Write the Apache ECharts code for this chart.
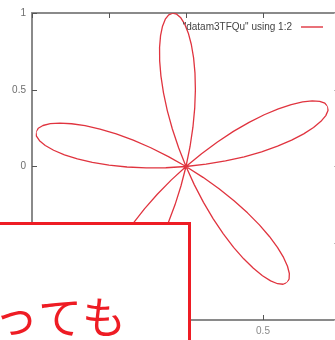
<!DOCTYPE html>
<html>
<head>
<meta charset="utf-8">
<script src="https://cdn.jsdelivr.net/npm/echarts@6/dist/echarts.min.js"></script>
<style>
  html, body { margin: 0; padding: 0; background: #fff; }
  #chart { width: 335px; height: 340px; }
</style>
</head>
<body>
<div id="chart"></div>
<script>
// Five-petal rose, plotted gnuplot-style.
const seriesName = '"datam3TFQu" using 1:2';

// Direction of each petal's tip (degrees, counter-clockwise from +x).
const petalCenters = [23, 95, 167, 239, 311];

// Angular offsets across one petal (degrees) and the radius at each offset.
const petalOffsets = [-18, -16.5, -15, -13.5, -12, -10.5, -9, -7.5, -6, -4.5, -3, -1.5,
                      0, 1.5, 3, 4.5, 6, 7.5, 9, 10.5, 12, 13.5, 15, 16.5, 18];
const petalRadii = [0, 0.131, 0.259, 0.383, 0.5, 0.609, 0.707, 0.793, 0.866, 0.924, 0.966, 0.991,
                    1, 0.991, 0.966, 0.924, 0.866, 0.793, 0.707, 0.609, 0.5, 0.383, 0.259, 0.131, 0];

// Axis ticks
const axisMin = -1, axisMax = 1, axisStep = 0.5;

// Polar [radius, angle] points, petal after petal
const roseData = [];
petalCenters.forEach(c => {
  petalOffsets.forEach((o, i) => roseData.push([petalRadii[i], c + o]));
});

const chart = echarts.init(document.getElementById('chart'));

const frame = '#8a8a8a';
const labelColor = '#6e6e6e';
const red = '#e0343f';

const valueAxisBase = {
  type: 'value', min: axisMin, max: axisMax, interval: axisStep,
  splitLine: { show: false }
};
const frameLine = { onZero: false, lineStyle: { color: frame, width: 2 } };

chart.setOption({
  animation: false,
  backgroundColor: '#fff',
  // the frame runs a few pixels past the right edge of the page
  grid: { left: 32, top: 13, width: 308, height: 307, containLabel: false, outerBoundsMode: 'none' },
  polar: { center: [186, 166.5], radius: 154 },
  angleAxis: {
    type: 'value', min: 0, max: 360, startAngle: 0, clockwise: false,
    axisLine: { show: false }, axisTick: { show: false },
    axisLabel: { show: false }, splitLine: { show: false }
  },
  radiusAxis: {
    type: 'value', min: 0, max: 1,
    axisLine: { show: false }, axisTick: { show: false },
    axisLabel: { show: false }, splitLine: { show: false }
  },
  xAxis: [
    Object.assign({}, valueAxisBase, {
      position: 'bottom',
      axisLine: frameLine,
      axisTick: { inside: true, length: 5, lineStyle: { color: '#555', width: 1 } },
      axisLabel: { color: '#8a8a8a', fontSize: 10, fontFamily: 'Liberation Sans', margin: 6, showMaxLabel: false }
    }),
    Object.assign({}, valueAxisBase, {
      position: 'top',
      axisLine: frameLine,
      axisTick: { inside: true, length: 5, lineStyle: { color: '#555', width: 1 } },
      axisLabel: { show: false }
    })
  ],
  yAxis: [
    Object.assign({}, valueAxisBase, {
      position: 'left',
      axisLine: frameLine,
      axisTick: { inside: true, length: 5, lineStyle: { color: '#555', width: 1 } },
      axisLabel: { color: labelColor, fontSize: 10, fontFamily: 'Liberation Sans', margin: 6 }
    }),
    Object.assign({}, valueAxisBase, {
      position: 'right',
      axisLine: frameLine,
      axisTick: { inside: true, length: 6, lineStyle: { color: '#bbb', width: 1 } },
      axisLabel: { show: false }
    })
  ],
  legend: {
    data: [seriesName],
    right: 7, top: 17,
    align: 'right',
    icon: 'rect',
    itemWidth: 22, itemHeight: 1.4,
    itemGap: 4,
    textStyle: { color: '#444', fontSize: 10, fontFamily: 'Liberation Sans', padding: [0, 4, 0, 0] }
  },
  series: [{
    name: seriesName,
    type: 'line',
    coordinateSystem: 'polar',
    data: roseData,
    showSymbol: false,
    symbol: 'none',
    lineStyle: { color: red, width: 1.3 },
    itemStyle: { color: red },
    z: 3
  }],
  graphic: [
    {
      type: 'rect', z: 100,
      shape: { x: -10, y: 223.5, width: 199.5, height: 140 },
      style: { fill: '#fff', stroke: '#ee1c24', lineWidth: 3 }
    },
    {
      type: 'text', z: 101,
      x: -6, y: 295,
      style: {
        text: 'っても',
        font: '44px "Noto Sans CJK JP"',
        fill: '#ee1c24',
        textAlign: 'left', textVerticalAlign: 'top'
      }
    }
  ]
});
</script>
</body>
</html>
